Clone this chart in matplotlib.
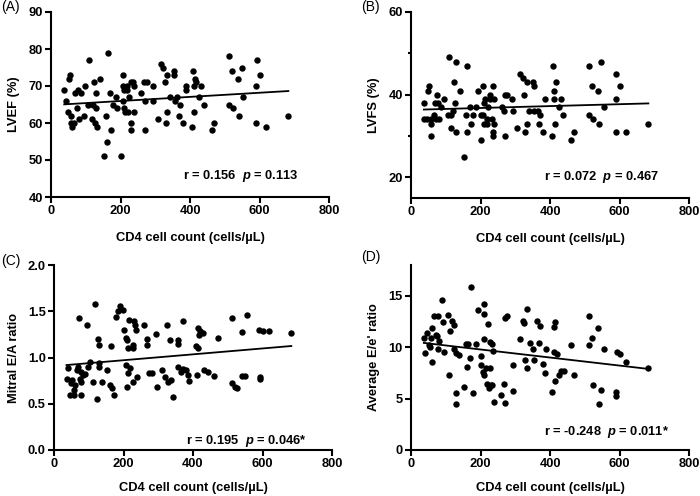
import matplotlib
matplotlib.use('Agg')
import matplotlib.pyplot as plt
import numpy as np

plt.rcParams['font.family'] = 'sans-serif'
plt.rcParams['font.sans-serif'] = ['Liberation Sans', 'DejaVu Sans']
plt.rcParams['mathtext.fontset'] = 'custom'
plt.rcParams['mathtext.bfit'] = 'Liberation Sans:italic:bold'

# (A) LVEF vs CD4
cd4_a = [38, 42, 50, 52, 55, 57, 58, 59, 66, 69, 76, 79, 81, 87, 96, 99, 108, 106, 117, 120,
         125, 128, 131, 130, 130, 141, 158, 153, 162, 163, 170, 173, 177, 187, 191, 201, 206, 208, 210, 208,
         211, 213, 218, 218, 222, 225, 229, 230, 230, 235, 239, 239, 258, 268, 270, 270, 277, 294, 294, 309,
         316, 323, 328, 333, 330, 335, 342, 354, 355, 357, 363, 369, 371, 379, 388, 388, 407, 410, 411, 412,
         414, 417, 427, 432, 440, 462, 469, 511, 512, 521, 525, 537, 541, 549, 553, 590, 592, 590, 601, 619, 683]
lvef = [69, 66, 63, 72, 73, 62, 60, 59, 60, 68, 64, 69, 61, 68, 62, 70, 77, 65, 61, 65,
        71, 60, 59, 68, 64, 72, 62, 51, 55, 79, 68, 58, 65, 67, 64, 51, 73, 70, 69, 66,
        64, 63, 70, 69, 63, 67, 71, 60, 58, 71, 70, 63, 68, 71, 66, 58, 71, 70, 66, 61,
        76, 75, 71, 73, 60, 63, 67, 74, 73, 66, 67, 62, 65, 60, 70, 69, 59, 74, 70, 63,
        72, 71, 67, 70, 65, 58, 60, 78, 65, 74, 64, 72, 62, 75, 67, 70, 77, 60, 73, 59, 62]

# (B) LVFS vs CD4
cd4_b = [37, 37, 47, 50, 53, 57, 58, 58, 66, 69, 72, 76, 78, 81, 85, 96, 106, 108, 115, 115,
         120, 124, 128, 130, 130, 141, 153, 157, 162, 162, 170, 172, 177, 187, 192, 201, 202, 206, 208, 210,
         210, 213, 218, 220, 223, 226, 228, 234, 235, 235, 236, 239, 239, 261, 268, 270, 270, 277, 292, 294,
         306, 315, 321, 325, 328, 333, 335, 340, 352, 355, 355, 365, 369, 371, 379, 386, 406, 410, 412, 412,
         413, 417, 427, 431, 438, 460, 470, 512, 512, 522, 524, 537, 540, 547, 554, 590, 589, 589, 601, 619, 683]
lvfs = [38, 34, 34, 41, 42, 33, 34, 30, 35, 38, 34, 40, 38, 34, 37, 39, 35, 49, 32, 35,
        36, 43, 38, 48, 31, 41, 25, 35, 47, 31, 37, 33, 35, 37, 41, 29, 35, 42, 35, 33,
        38, 39, 33, 34, 37, 39, 40, 34, 31, 30, 42, 39, 33, 37, 36, 30, 40, 40, 39, 36,
        32, 45, 44, 40, 31, 43, 33, 36, 43, 42, 36, 36, 33, 35, 31, 39, 30, 47, 41, 39,
        33, 43, 37, 39, 35, 29, 31, 47, 35, 42, 34, 41, 33, 48, 37, 45, 39, 31, 42, 31, 33]

# (C) Mitral E/A vs CD4
cd4_c = [40, 36, 45, 50, 53, 57, 57, 60, 65, 68, 72, 74, 77, 77, 77, 83, 88, 95, 98, 105,
         111, 117, 124, 127, 129, 130, 130, 139, 153, 161, 163, 168, 172, 178, 185, 191, 199, 201, 207, 207,
         209, 211, 213, 216, 213, 220, 226, 228, 230, 233, 228, 236, 239, 259, 269, 269, 273, 281, 293, 295,
         310, 319, 326, 329, 334, 336, 343, 356, 356, 358, 366, 372, 372, 380, 387, 389, 409, 411, 413, 414,
         417, 420, 430, 433, 442, 461, 471, 513, 513, 521, 526, 542, 541, 550, 555, 590, 592, 592, 602, 620, 683]
ea_ratio = [0.89, 0.77, 0.59, 0.72, 0.76, 0.65, 0.60, 0.70, 0.86, 0.90, 1.43, 0.77, 0.74, 0.84, 0.60, 0.81, 0.82, 1.35, 0.90, 0.95,
            0.74, 1.58, 0.55, 1.20, 0.90, 1.13, 0.94, 0.73, 0.86, 0.70, 1.12, 0.67, 0.60, 1.44, 1.50, 1.56, 1.51, 1.30, 0.92, 1.21,
            0.68, 1.19, 0.83, 1.41, 1.10, 0.89, 1.10, 1.14, 1.39, 1.35, 0.73, 1.30, 0.79, 1.35, 1.20, 1.14, 0.83, 0.83, 1.25, 0.68,
            0.86, 0.79, 1.35, 0.73, 1.19, 0.76, 0.57, 1.19, 1.15, 0.90, 0.84, 1.39, 0.88, 0.87, 0.81, 0.75, 1.12, 0.81, 1.10, 1.32,
            1.24, 1.29, 1.26, 0.86, 0.84, 0.80, 1.21, 1.43, 0.72, 0.68, 0.67, 1.28, 0.80, 0.80, 1.46, 1.30, 0.79, 0.77, 1.29, 1.29, 1.26]

# (D) Average E/e' vs CD4
cd4_d = [37, 40, 47, 52, 55, 58, 60, 60, 66, 71, 74, 79, 79, 82, 88, 93, 96, 106, 110, 112,
         117, 124, 125, 130, 130, 130, 139, 153, 158, 162, 163, 170, 172, 177, 187, 192, 201, 201, 208, 210,
         210, 211, 211, 215, 218, 221, 224, 226, 228, 230, 232, 234, 235, 239, 258, 268, 270, 270, 277, 293,
         294, 315, 323, 325, 328, 333, 335, 343, 352, 355, 363, 371, 369, 379, 387, 388, 407, 411, 413, 413,
         411, 419, 427, 432, 440, 461, 470, 512, 513, 521, 525, 537, 541, 547, 554, 589, 589, 592, 601, 619, 681]
ee_ratio = [10.9, 9.4, 11.4, 10.2, 10.0, 10.9, 11.9, 8.6, 13.0, 11.2, 11.1, 13.0, 9.8, 10.6, 14.6, 12.5, 9.5, 13.1, 7.3, 11.6,
            12.6, 9.8, 12.2, 9.4, 5.5, 4.5, 9.2, 6.1, 10.3, 8.1, 10.3, 9.0, 15.9, 5.5, 10.3, 13.6, 9.1, 8.3, 7.6, 13.2,
            7.3, 14.2, 10.8, 8.0, 6.4, 12.3, 6.0, 10.5, 8.0, 6.3, 6.3, 10.3, 9.6, 4.7, 5.4, 6.4, 4.6, 12.8, 13.0, 5.7,
            8.3, 10.8, 12.6, 12.4, 8.8, 13.7, 8.0, 10.4, 9.8, 8.8, 12.6, 12.1, 10.4, 8.4, 7.5, 9.8, 5.6, 12.0, 12.5, 6.7,
            9.5, 9.3, 7.3, 7.7, 7.7, 10.2, 7.3, 13.0, 10.2, 10.9, 6.3, 11.9, 4.5, 5.8, 9.8, 5.6, 5.3, 9.5, 9.3, 8.6, 8.0]

fig = plt.figure(figsize=(7, 4.96), dpi=100)
W, H = 700.0, 496.0
FS = 9.3


def make_ax(left, top, right, bottom):
    return fig.add_axes([left / W, 1 - bottom / H, (right - left) / W, (bottom - top) / H])


panels = [
    # x, y, axes box (px), ylim, yticks, minor, ylabel, tag, stat text, text pos, tag pos, label offsets
    (cd4_a, lvef, (51, 12, 329, 197), (40, 90), np.arange(40, 91, 10), None, 'LVEF (%)', '(A)',
     'r = 0.156  $\\mathbfit{p}$ = 0.113', (713, 45.6), (1, 7), (-0.11, -0.19)),
    (cd4_b, lvfs, (411, 12, 689, 198), (15, 60), [20, 40, 60], [30, 50], 'LVFS (%)', '(B)',
     'r = 0.072  $\\mathbfit{p}$ = 0.467', (714, 20), (361, 7), (-0.11, -0.19)),
    (cd4_c, ea_ratio, (54, 265, 332, 450), (0, 2), np.arange(0, 2.01, 0.5), None, 'Mitral E/A ratio', '(C)',
     'r = 0.195  $\\mathbfit{p}$ = 0.046*', (728, 0.10), (1, 261), (-0.122, -0.173)),
    (cd4_d, ee_ratio, (411, 265, 689, 450), (0, 18), [0, 5, 10, 15], None, "Average E/e' ratio", '(D)',
     'r = -0.248  $\\mathbfit{p}$ = 0.011*', (743, 1.73), (361, 257), (-0.11, -0.173)),
]

for x, y, box, ylim, yticks, minor, ylabel, tag, stat, tpos, tagpos, lab in panels:
    ax = make_ax(*box)
    x = np.array(x, dtype=float)
    y = np.array(y, dtype=float)
    ax.plot(x, y, 'o', color='black', markersize=4.6, markeredgewidth=0, clip_on=False)
    k, b = np.polyfit(x, y, 1)
    xs = np.array([x.min(), x.max()])
    ax.plot(xs, k * xs + b, color='black', lw=1.3)

    ax.set_xlim(0, 800)
    ax.set_ylim(*ylim)
    ax.set_xticks([0, 200, 400, 600, 800])
    ax.set_yticks(yticks)
    if ylim[1] == 2:
        ax.set_yticklabels(['%.1f' % v for v in yticks])
    if minor:
        ax.set_yticks(minor, minor=True)
    for s in ['top', 'right']:
        ax.spines[s].set_visible(False)
    for s in ['left', 'bottom']:
        ax.spines[s].set_linewidth(1.5)
    ax.tick_params(which='major', length=4, width=1.5, labelsize=FS, pad=2)
    ax.tick_params(which='minor', length=2.5, width=1.5)
    for t in ax.get_xticklabels() + ax.get_yticklabels():
        t.set_fontweight('bold')

    ax.set_xlabel('CD4 cell count (cells/µL)', fontsize=FS, fontweight='bold')
    ax.xaxis.set_label_coords(0.5, lab[1])
    ax.set_ylabel(ylabel, fontsize=FS, fontweight='bold')
    ax.yaxis.set_label_coords(lab[0], 0.5)

    ax.text(tpos[0], tpos[1], stat, ha='right', va='center', fontsize=FS, fontweight='bold')
    fig.text(tagpos[0] / W, 1 - tagpos[1] / H, tag, ha='left', va='center', fontsize=10)

fig.savefig('out.png', dpi=100)
